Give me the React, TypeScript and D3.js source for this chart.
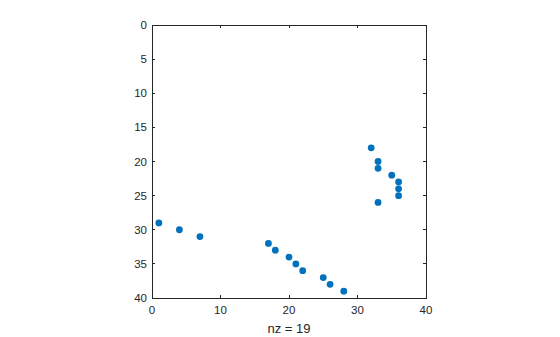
import React from "react";
import * as d3 from "d3";

const cols = [1, 4, 7, 17, 18, 20, 21, 22, 25, 26, 28, 32, 33, 33, 35, 36, 36, 36, 33];
const rows = [29, 30, 31, 32, 33, 34, 35, 36, 37, 38, 39, 18, 20, 21, 22, 23, 24, 25, 26];
const xTicks = [0, 10, 20, 30, 40];
const yTicks = [0, 5, 10, 15, 20, 25, 30, 35, 40];

export default function App() {
  const W = 560, H = 337;
  const L = 152, R = 426, T = 25, B = 298;
  const x = d3.scaleLinear().domain([0, 40]).range([L, R]);
  const y = d3.scaleLinear().domain([0, 40]).range([T, B]);
  const ink = "#262626";
  const font = "'Liberation Sans', Arial, sans-serif";
  const tl = 3;
  return (
    <svg width={W} height={H} style={{ position: "absolute", left: 0, top: 0, background: "#fff" }}>
      <rect x={0} y={0} width={W} height={H} fill="#fff" />
      <rect x={L} y={T} width={R - L} height={B - T} fill="#fff" stroke="none" />
      {cols.map((c, i) => (
        <circle key={i} cx={x(c)} cy={y(rows[i])} r={3.4} fill="#0072BD" />
      ))}
      <rect x={L} y={T} width={R - L} height={B - T} fill="none" stroke={ink} strokeWidth={1} shapeRendering="crispEdges" />
      {xTicks.map((t) => (
        <g key={"x" + t}>
          <line x1={x(t)} x2={x(t)} y1={B} y2={B - tl} stroke={ink} shapeRendering="crispEdges" />
          <line x1={x(t)} x2={x(t)} y1={T} y2={T + tl} stroke={ink} shapeRendering="crispEdges" />
          <text x={x(t)} y={B + 15.5} textAnchor="middle" fontFamily={font} fontSize={11.5} fill={ink}>{t}</text>
        </g>
      ))}
      {yTicks.map((t) => (
        <g key={"y" + t}>
          <line x1={L} x2={L + tl} y1={y(t)} y2={y(t)} stroke={ink} shapeRendering="crispEdges" />
          <line x1={R} x2={R - tl} y1={y(t)} y2={y(t)} stroke={ink} shapeRendering="crispEdges" />
          <text x={L - 5} y={y(t) + 4} textAnchor="end" fontFamily={font} fontSize={11.5} fill={ink}>{t}</text>
        </g>
      ))}
      <text x={(L + R) / 2} y={332.5} textAnchor="middle" fontFamily={font} fontSize={13} fill={ink}>nz = 19</text>
    </svg>
  );
}
